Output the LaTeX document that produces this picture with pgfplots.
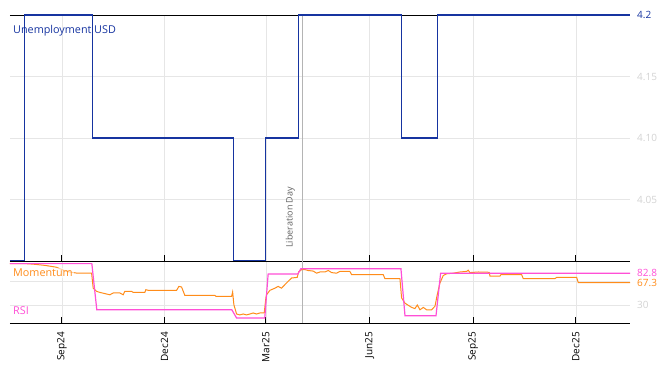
\documentclass[border=0pt]{standalone}
\usepackage{pgfplots}
\pgfplotsset{compat=1.18}
\usepackage{fontspec}
\setmainfont{Open Sans}
\usetikzlibrary{calc}
\definecolor{unemp}{HTML}{1634A0}
\definecolor{mom}{HTML}{FF8C1A}
\definecolor{rsi}{HTML}{FF4FD6}
\definecolor{lbl}{HTML}{D2D2D2}
\definecolor{grd}{HTML}{E6E6E6}
\definecolor{evt}{HTML}{B4B4B4}
\pgfplotsset{
  panel/.style={
    scale only axis, width=620pt,
    xmin=-46, xmax=504,
    separate axis lines,
    x axis line style={black, line width=0.9pt},
    y axis line style={draw=none},
    xtick={0,91,181,273,365,456},
    xmajorgrids, ymajorgrids,
    major grid style={grd, line width=0.6pt},
    tick align=inside,
    xtick pos=left,
    major tick length=6pt,
    xtick style={black, line width=0.8pt},
    ytick pos=right,
    yticklabel pos=right,
    ytick style={draw=none},
    yticklabel style={anchor=west, inner sep=0pt, font=\fontsize{10}{12}\selectfont},
    yticklabel shift=7pt,
    clip=false,
  }
}
\begin{document}
\begin{tikzpicture}
\path[use as bounding box] (-10pt,15pt) rectangle (658pt,-357pt);
\begin{axis}[panel, at={(0,0)}, anchor=north west, height=246pt,
  ymin=4.0, ymax=4.2, ytick={4.05,4.10,4.15,4.2},
  yticklabels={\textcolor{lbl}{4.05},\textcolor{lbl}{4.10},\textcolor{lbl}{4.15},\textcolor{unemp}{4.2}},
  xticklabels={}]
\draw[evt, line width=0.8pt] (axis cs:213,4.0) -- (axis cs:213,4.2);
\addplot[unemp, line width=1.2pt] coordinates {
(-46,4.0) (-33,4.0) (-33,4.2) (27,4.2) (27,4.1) (152,4.1) (152,4.0) (181,4.0) (181,4.1) (210,4.1) (210,4.2) (301,4.2) (301,4.1) (333,4.1) (333,4.2) (504,4.2)
};
\node[rotate=90, anchor=south west, inner sep=0pt, text=black!62, font=\fontsize{9}{11}\selectfont] at ($(axis cs:213,4.0)+(-7pt,13pt)$) {Liberation Day};
\node[anchor=north west, inner sep=0pt, text=unemp, font=\fontsize{10.8}{13}\selectfont] at ($(rel axis cs:0,1)+(3pt,-10pt)$) {Unemployment USD};
\end{axis}
\begin{axis}[panel, at={(0,-246pt)}, anchor=north west, height=62pt,
  ymin=0, ymax=103.3, ytick={30,70}, yticklabels={\textcolor{lbl}{30},{}},
  extra y ticks={67.3,82.8},
  extra y tick labels={\textcolor{mom}{67.3},\textcolor{rsi}{82.8}},
  extra y tick style={grid=none, major tick length=0pt},
  xticklabels={Sep24,Dec24,Mar25,Jun25,Sep25,Dec25},
  xticklabel style={rotate=90, anchor=east, inner sep=0pt, font=\fontsize{10}{12}\selectfont},
  xticklabel shift=9pt]
\draw[evt, line width=0.8pt] (axis cs:213,0) -- (axis cs:213,103.3);
\addplot[mom, line width=1pt] coordinates {
(-46,99) (-33,99) (-25,98) (-15,96) (-5,93) (4,86) (10,84) (14,83) (26.4,83) (27.8,58) (30.8,52.8) (33.7,51) (39.7,48.3) (42.6,47) (45.5,50) (51.5,50) (54.4,47) (55.9,52.8) (61.8,52.8) (63.3,51) (73.6,51) (74.5,55.5) (76.6,54.5) (101.8,54.5) (103.8,61) (106.2,60) (109.1,46) (135.8,46) (136.6,44.5) (150.6,44.5) (151.5,51.7) (152.6,30.5) (155,15) (157.9,13.5) (160.9,15) (163.9,13.5) (166.8,15) (169.7,16.7) (172.7,15) (175.7,16.7) (179.5,16.7) (181,41.7) (181.6,47) (184.6,54.5) (189,58) (191.9,61) (194.9,58) (197.9,64) (200.8,69.5) (203.8,75) (208.8,76) (210,85) (212.7,89) (215.6,89) (218.5,87.5) (223,86.5) (226,83) (228.9,85) (233.4,85) (236.3,87.5) (239.3,84) (243.7,83) (246.6,86) (255.5,86) (257,80.5) (285.1,80.5) (286.6,74) (299.9,74) (301.4,41.7) (304.4,33) (307.3,29.5) (310.3,26) (313.2,24) (315.3,30) (317.7,22) (320.6,26) (323.6,22) (328,22) (331,28) (333,47) (335.4,66.7) (338.3,79) (341.3,82) (347.2,83) (353.2,85) (359.1,86) (360.5,88) (362,84) (369.4,85) (379.1,84.5) (379.8,78) (388.6,78) (389.5,80.5) (407.9,80.5) (409.3,74) (437.4,74) (439,76) (456.7,76) (458.1,67.3) (504,67.3)
};
\addplot[rsi, line width=1.2pt] coordinates {
(-46,98.9) (26.6,98.9) (31,22) (150.8,22) (155,8.3) (180,8.3) (183,81.7) (209.4,81.7) (212,90.5) (300.8,90.5) (304.4,12) (331.9,12) (336,82.8) (504,82.8)
};
\node[anchor=north west, inner sep=1pt, fill=white, fill opacity=0.6, text opacity=1, text=mom, font=\fontsize{10.8}{13}\selectfont] at ($(rel axis cs:0,1)+(2pt,-7pt)$) {Momentum};
\node[anchor=south west, inner sep=0pt, text=rsi, font=\fontsize{10.8}{13}\selectfont] at ($(rel axis cs:0,0)+(3pt,8pt)$) {RSI};
\end{axis}
\end{tikzpicture}
\end{document}
